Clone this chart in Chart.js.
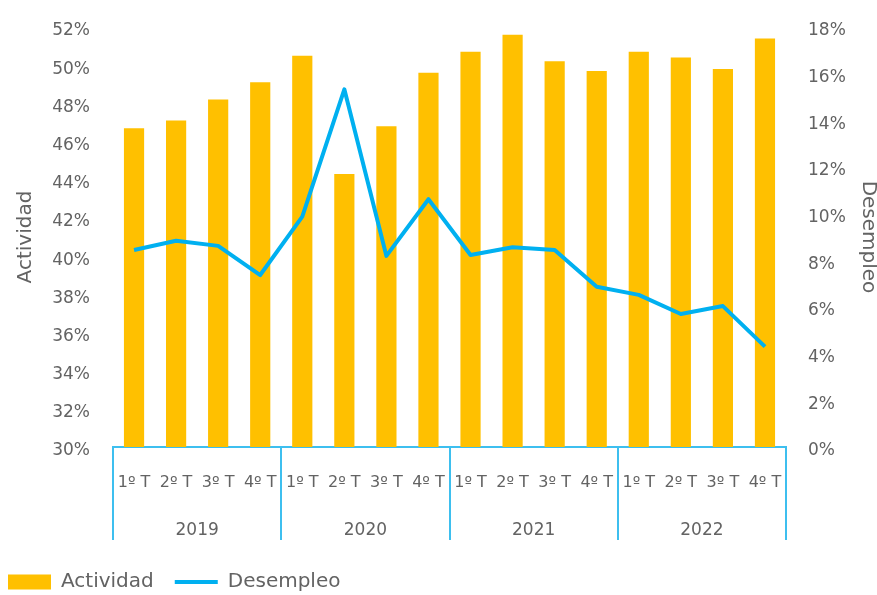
<!DOCTYPE html>
<html>
<head>
<meta charset="utf-8">
<script src="https://cdn.jsdelivr.net/npm/chart.js@4"></script>
<style>
    html, body { margin: 0; padding: 0; background: #fff; }
    #wrap { width: 877px; height: 595px; position: relative; }
</style>
</head>
<body>
<div id="wrap"><canvas id="actividadChart"></canvas></div>
<script>
const QUARTERS = [
    '1º T', '2º T', '3º T', '4º T',
    '1º T', '2º T', '3º T', '4º T',
    '1º T', '2º T', '3º T', '4º T',
    '1º T', '2º T', '3º T', '4º T'
];
const YEARS = ['2019', '2020', '2021', '2022'];

const ACTIVIDAD = [46.7, 47.1, 48.2, 49.1, 50.5, 44.3, 46.8, 49.6, 50.7, 51.6, 50.2, 49.7, 50.7, 50.4, 49.8, 51.4];
const DESEMPLEO = [8.44, 8.84, 8.62, 7.37, 9.87, 15.33, 8.19, 10.62, 8.23, 8.56, 8.44, 6.87, 6.52, 5.70, 6.04, 4.30];

const COLOR_BAR  = '#FFC000';
const COLOR_LINE = '#00B0F0';
const COLOR_SEP  = '#3DBFEF';
const COLOR_TEXT = '#636363';
const FONT = "'DejaVu Sans', sans-serif";

Chart.defaults.font.family = FONT;
Chart.defaults.color = COLOR_TEXT;

// lines only at year boundaries (every 4th quarter + the right edge)
function yearSeparator(ctx) {
    if (ctx.type !== 'tick' || ctx.index % 4 === 0)
        return COLOR_SEP;
    return 'rgba(0,0,0,0)';
}

function pct(value) {
    return value + '%';
}

// fixed width, and don't let the tick padding push the chart area down
function fitValueAxis(width) {
    return function (scale) {
        scale.width = width;
        scale.paddingTop = 0;
        scale.paddingBottom = 0;
    };
}

const chartData = {
    labels: QUARTERS,
    datasets: [{
        type: 'line',
        label: 'Desempleo',
        data: DESEMPLEO,
        yAxisID: 'y1',
        borderColor: COLOR_LINE,
        backgroundColor: COLOR_LINE,
        borderWidth: 4,
        borderJoinStyle: 'round',
        tension: 0,
        pointRadius: 0,
        pointStyle: 'line',
        order: 0
    }, {
        type: 'bar',
        label: 'Actividad',
        data: ACTIVIDAD,
        yAxisID: 'y',
        backgroundColor: COLOR_BAR,
        borderWidth: 0,
        categoryPercentage: 1,
        barPercentage: 0.48,
        pointStyle: 'rect',
        order: 1
    }]
};

new Chart(document.getElementById('actividadChart'), {
    type: 'bar',
    data: chartData,
    options: {
        responsive: true,
        maintainAspectRatio: false,
        animation: false,
        layout: {
            padding: { top: 27, left: -13, right: 0, bottom: -7 }
        },
        plugins: {
            tooltip: { enabled: false },
            legend: {
                position: 'bottom',
                align: 'start',
                reverse: true,
                labels: {
                    usePointStyle: true,
                    pointStyleWidth: 43,
                    boxHeight: 15,
                    padding: 21,
                    color: COLOR_TEXT,
                    font: { size: 20 }
                }
            }
        },
        scales: {
            x: {
                type: 'category',
                position: 'bottom',
                offset: true,
                grid: {
                    display: true,
                    offset: true,
                    drawOnChartArea: false,
                    drawTicks: true,
                    tickLength: 93,
                    lineWidth: 2,
                    color: yearSeparator
                },
                border: { display: true, color: COLOR_SEP, width: 2 },
                ticks: {
                    autoSkip: false,
                    maxRotation: 0,
                    padding: -67,
                    font: { size: 16 }
                },
                afterFit: function (scale) { scale.height = 40; }
            },
            x2: {
                type: 'category',
                position: 'bottom',
                labels: YEARS,
                offset: true,
                grid: { display: false, drawTicks: false, offset: true },
                border: { display: false },
                ticks: {
                    autoSkip: false,
                    maxRotation: 0,
                    padding: 33.5,
                    font: { size: 17 }
                },
                afterFit: function (scale) { scale.height = 64; }
            },
            y: {
                position: 'left',
                min: 30,
                max: 52,
                grid: { display: false, drawTicks: false },
                border: { display: false },
                ticks: {
                    stepSize: 2,
                    padding: 23,
                    labelOffset: 4,
                    font: { size: 17 },
                    callback: pct
                },
                title: {
                    display: true,
                    text: 'Actividad',
                    font: { size: 20, lineHeight: 1 },
                    padding: { top: 29, bottom: 0 }
                },
                afterFit: fitValueAxis(126)
            },
            y1: {
                position: 'right',
                min: 0,
                max: 18,
                grid: { display: false, drawTicks: false },
                border: { display: false },
                ticks: {
                    stepSize: 2,
                    padding: 22,
                    labelOffset: 4,
                    font: { size: 17 },
                    callback: pct
                },
                title: {
                    display: true,
                    text: 'Desempleo',
                    font: { size: 20, lineHeight: 1 },
                    padding: { top: -1, bottom: 0 }
                },
                afterFit: fitValueAxis(91)
            }
        }
    }
});
</script>
</body>
</html>
